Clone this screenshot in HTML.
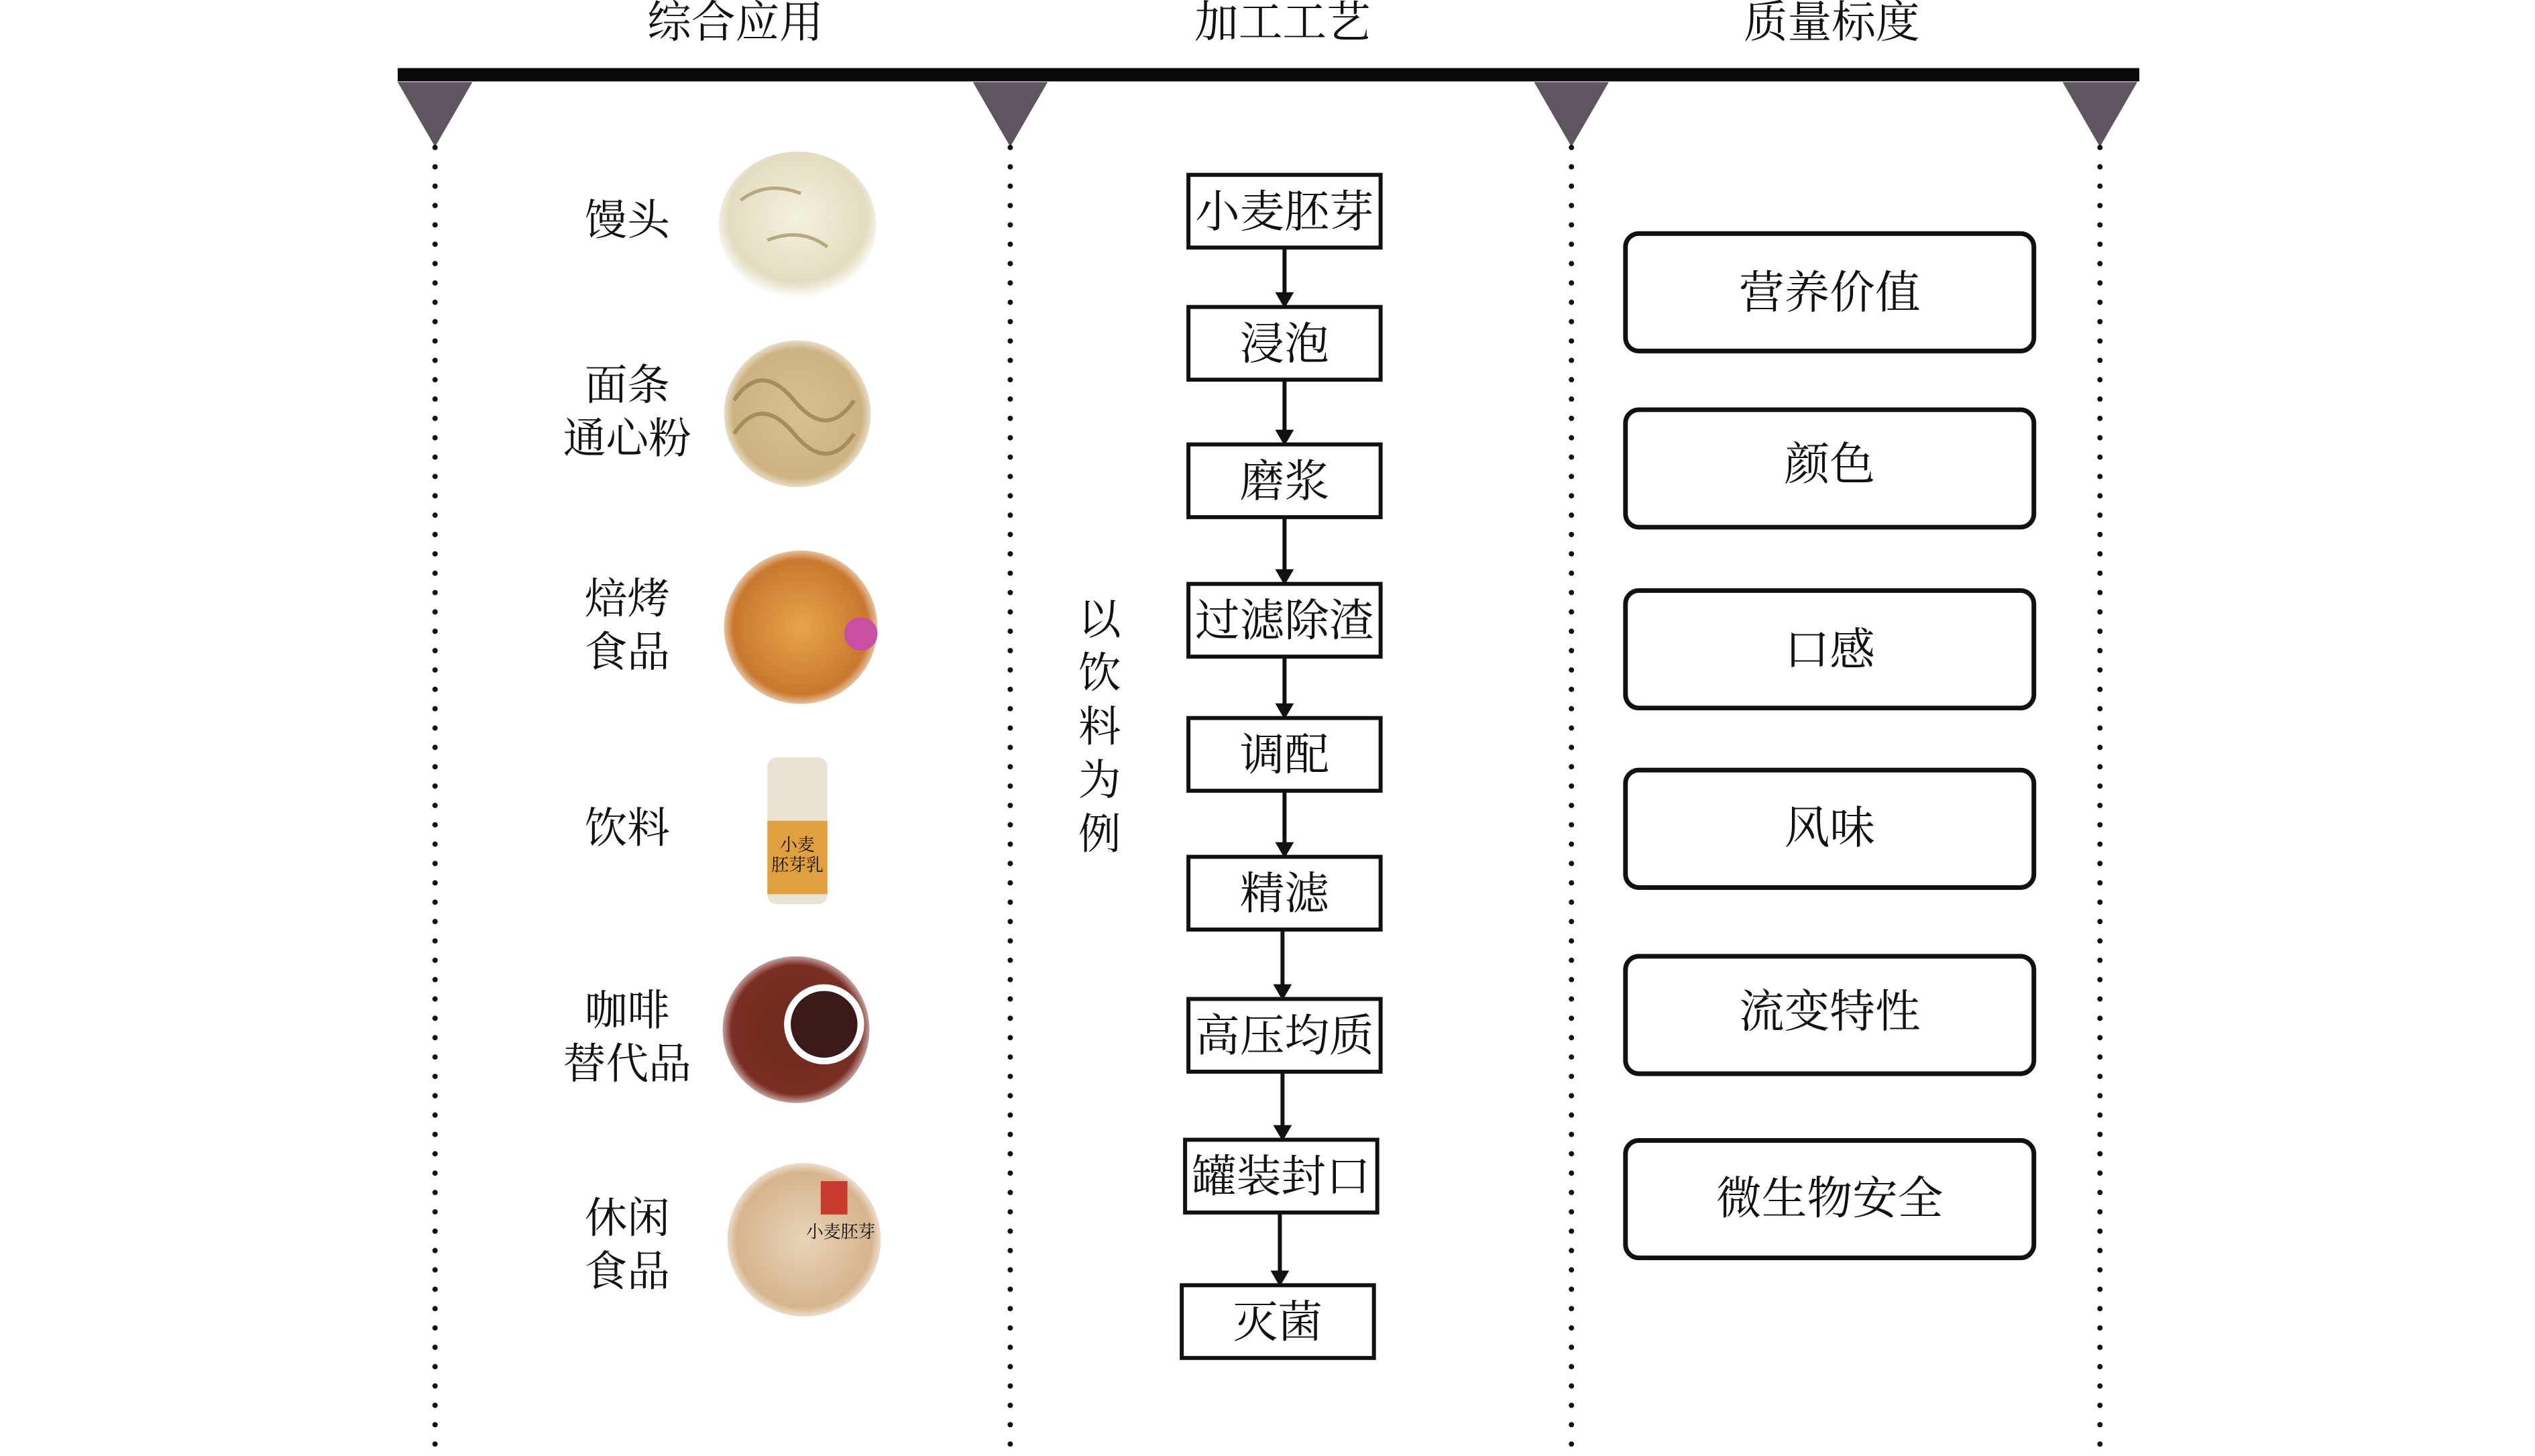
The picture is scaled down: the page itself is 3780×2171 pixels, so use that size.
<!DOCTYPE html>
<html><head><meta charset="utf-8"><style>
html,body{margin:0;padding:0;background:#fff;width:3780px;height:2171px;overflow:hidden}
svg{display:block}
text{font-family:"Liberation Serif","Noto Serif CJK SC",serif;fill:#111}
</style></head><body>
<svg width="3780" height="2171" viewBox="0 0 3780 2171" xmlns="http://www.w3.org/2000/svg">
<defs>
<radialGradient id="g1" cx="50%" cy="45%" r="55%"><stop offset="0" stop-color="#f4f1de"/><stop offset="0.8" stop-color="#e3dcc0"/><stop offset="1" stop-color="#fff"/></radialGradient>
<radialGradient id="g2" cx="50%" cy="50%" r="55%"><stop offset="0" stop-color="#d9c08f"/><stop offset="0.8" stop-color="#cdb382"/><stop offset="1" stop-color="#fff"/></radialGradient>
<radialGradient id="g3" cx="50%" cy="50%" r="55%"><stop offset="0" stop-color="#e7a44a"/><stop offset="0.8" stop-color="#c9782e"/><stop offset="1" stop-color="#fff"/></radialGradient>
<radialGradient id="g5" cx="50%" cy="50%" r="55%"><stop offset="0" stop-color="#6b2a1c"/><stop offset="0.8" stop-color="#7a2e24"/><stop offset="1" stop-color="#fff"/></radialGradient>
<radialGradient id="g6" cx="50%" cy="50%" r="55%"><stop offset="0" stop-color="#e8d4b8"/><stop offset="0.8" stop-color="#d6b48e"/><stop offset="1" stop-color="#fff"/></radialGradient>
</defs>
<g transform="scale(0.995)">
<!-- headers -->
<g font-size="66" text-anchor="middle">
<text x="1102" y="56">综合应用</text>
<text x="1922" y="56">加工工艺</text>
<text x="2745" y="56">质量标度</text>
</g>

<rect x="596" y="102" width="2610" height="20" fill="#0a0a0a"/>
<g fill="#5e5560">
<polygon points="596,123 708,123 652,220"/>
<polygon points="1458,123 1570,123 1514,220"/>
<polygon points="2299,123 2411,123 2355,220"/>
<polygon points="3091,123 3203,123 3147,220"/>
</g>
<g stroke="#111" stroke-width="8" stroke-linecap="round" stroke-dasharray="0 29">
<line x1="652" y1="221" x2="652" y2="2190"/>
<line x1="1514" y1="221" x2="1514" y2="2190"/>
<line x1="2355" y1="221" x2="2355" y2="2190"/>
<line x1="3147" y1="221" x2="3147" y2="2190"/>
</g>

<g font-size="64" text-anchor="middle">
<text x="940" y="352">馒头</text>
<text x="940" y="599">面条</text>
<text x="940" y="679">通心粉</text>
<text x="940" y="919">焙烤</text>
<text x="940" y="999">食品</text>
<text x="940" y="1263">饮料</text>
<text x="940" y="1536">咖啡</text>
<text x="940" y="1616">替代品</text>
<text x="940" y="1847">休闲</text>
<text x="940" y="1927">食品</text>
</g>

<ellipse cx="1195" cy="337" rx="118" ry="110" fill="url(#g1)"/>
<path d="M1110,300 q40,-30 90,-10 M1150,360 q50,-20 90,10" stroke="#b8a880" stroke-width="5" fill="none"/>
<circle cx="1195" cy="620" r="110" fill="url(#g2)"/>
<path d="M1100,600 q40,-60 90,0 t90,0 M1100,650 q40,-60 90,0 t90,0" stroke="#a88c5c" stroke-width="6" fill="none"/>
<circle cx="1200" cy="940" r="115" fill="url(#g3)"/>
<circle cx="1290" cy="950" r="25" fill="#c84fa2"/>
<rect x="1150" y="1135" width="90" height="220" rx="14" fill="#e9e3d3"/>
<rect x="1150" y="1230" width="90" height="110" fill="#e0a040"/>
<text x="1195" y="1275" font-size="26" text-anchor="middle" fill="#2a8a3a">小麦</text>
<text x="1195" y="1305" font-size="26" text-anchor="middle" fill="#2a8a3a">胚芽乳</text>
<circle cx="1193" cy="1543" r="110" fill="url(#g5)"/>
<circle cx="1235" cy="1535" r="60" fill="#fff"/>
<circle cx="1235" cy="1535" r="50" fill="#3a1a18"/>
<circle cx="1205" cy="1858" r="115" fill="url(#g6)"/>
<rect x="1230" y="1770" width="40" height="50" fill="#c93a2e"/>
<text x="1260" y="1855" font-size="26" text-anchor="middle" fill="#333">小麦胚芽</text>

<g font-size="64" text-anchor="middle">
<text x="1648" y="950">以</text>
<text x="1648" y="1030">饮</text>
<text x="1648" y="1111">料</text>
<text x="1648" y="1191">为</text>
<text x="1648" y="1272">例</text>
</g>

<g fill="#fff" stroke="#111" stroke-width="6">
<rect x="1781" y="262" width="288" height="109"/>
<rect x="1781" y="460" width="288" height="109"/>
<rect x="1781" y="666" width="288" height="109"/>
<rect x="1781" y="875" width="288" height="109"/>
<rect x="1781" y="1076" width="288" height="109"/>
<rect x="1781" y="1284" width="288" height="109"/>
<rect x="1781" y="1497" width="288" height="109"/>
<rect x="1776" y="1708" width="288" height="109"/>
<rect x="1771" y="1926" width="288" height="109"/>
</g>
<g font-size="67" text-anchor="middle">
<text x="1925" y="340">小麦胚芽</text>
<text x="1925" y="538">浸泡</text>
<text x="1925" y="744">磨浆</text>
<text x="1925" y="953">过滤除渣</text>
<text x="1925" y="1154">调配</text>
<text x="1925" y="1362">精滤</text>
<text x="1925" y="1575">高压均质</text>
<text x="1920" y="1786">罐装封口</text>
<text x="1915" y="2004">灭菌</text>
</g>
<g stroke="#111" stroke-width="6">
<line x1="1925" y1="371" x2="1925" y2="440"/>
<line x1="1925" y1="569" x2="1925" y2="646"/>
<line x1="1925" y1="775" x2="1925" y2="855"/>
<line x1="1925" y1="984" x2="1925" y2="1056"/>
<line x1="1925" y1="1185" x2="1925" y2="1264"/>
<line x1="1922" y1="1393" x2="1922" y2="1477"/>
<line x1="1922" y1="1606" x2="1922" y2="1688"/>
<line x1="1918" y1="1817" x2="1918" y2="1906"/>
</g>
<g fill="#111">
<polygon points="1911,438 1939,438 1925,462"/>
<polygon points="1911,644 1939,644 1925,668"/>
<polygon points="1911,853 1939,853 1925,877"/>
<polygon points="1911,1054 1939,1054 1925,1078"/>
<polygon points="1911,1262 1939,1262 1925,1286"/>
<polygon points="1908,1475 1936,1475 1922,1499"/>
<polygon points="1908,1686 1936,1686 1922,1710"/>
<polygon points="1904,1904 1932,1904 1918,1928"/>
</g>

<g fill="#fff" stroke="#111" stroke-width="7">
<rect x="2436" y="350" width="612" height="176" rx="20"/>
<rect x="2436" y="614" width="612" height="176" rx="20"/>
<rect x="2436" y="885" width="612" height="176" rx="20"/>
<rect x="2436" y="1154" width="612" height="176" rx="20"/>
<rect x="2436" y="1433" width="612" height="176" rx="20"/>
<rect x="2436" y="1709" width="612" height="176" rx="20"/>
</g>
<g font-size="68" text-anchor="middle">
<text x="2742" y="462">营养价值</text>
<text x="2742" y="719">颜色</text>
<text x="2742" y="997">口感</text>
<text x="2742" y="1264">风味</text>
<text x="2742" y="1539">流变特性</text>
<text x="2742" y="1819">微生物安全</text>
</g>
</g>
</svg>
</body></html>
